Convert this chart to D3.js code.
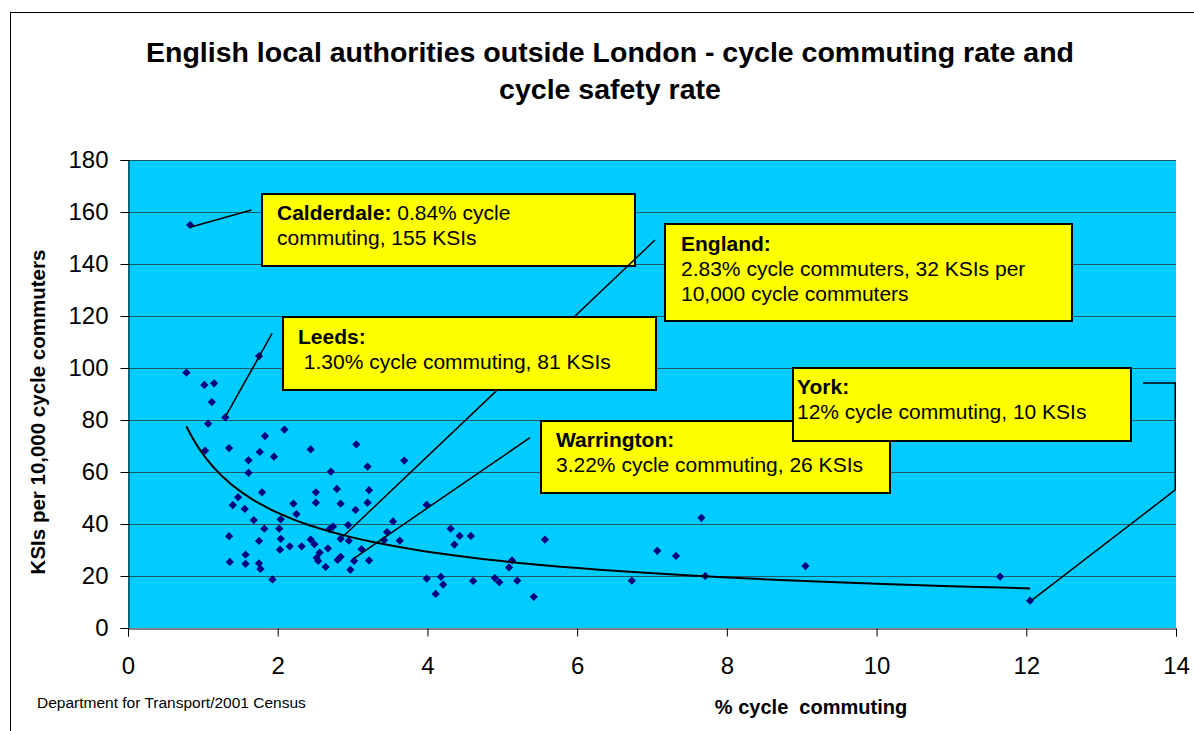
<!DOCTYPE html>
<html>
<head>
<meta charset="utf-8">
<script src="https://cdn.jsdelivr.net/npm/d3@7"></script>
<style>
  body { margin: 0; background: #fff; }
  text { font-family: "Liberation Sans", Arial, sans-serif; }
</style>
</head>
<body>
<svg id="chart" width="1194" height="731"></svg>
<script>
// % cycle commuting and KSIs per 10,000 cycle commuters, one entry per local authority
const cyclePct = [0.78, 0.83, 1.02, 1.15, 1.12, 1.30, 1.07, 1.03, 1.35, 1.61,
  1.76, 1.83, 2.09, 1.95, 2.44, 1.61, 1.75, 1.79, 2.51, 1.47,
  1.40, 1.56, 2.21, 2.51, 2.25, 1.68, 2.04, 1.82, 2.02, 1.35,
  2.04, 1.75, 2.44, 2.49, 2.16, 2.32, 2.03, 2.52, 1.57, 1.36,
  1.57, 1.75, 1.77, 1.93, 3.05, 3.20, 3.69, 2.71, 2.79, 3.22,
  2.84, 3.20, 3.04, 3.99, 3.54, 2.74, 2.69, 2.94, 3.46, 4.31,
  4.43, 4.58, 4.36, 2.84, 2.95, 3.63, 3.42, 2.67, 2.56, 3.12,
  2.54, 2.80, 2.84, 3.02, 3.22, 2.64, 2.97, 3.99, 4.18, 4.21,
  4.11, 4.61, 4.90, 4.96, 5.20, 5.42, 5.57, 5.13, 5.09, 7.66,
  7.07, 7.32, 6.73, 7.71, 9.05, 11.65, 12.05]
const ksiRate = [98.2, 155, 93.5, 94.1, 86.9, 81, 78.6, 68.2, 69.2, 64.5,
  67.7, 73.8, 76.3, 65.9, 68.7, 59.7, 104.6, 52.2, 52.2, 50.3,
  47.3, 45.8, 47.8, 48.2, 43.8, 41.5, 41.8, 38.2, 38.2, 35.3,
  34.3, 33.5, 34.0, 32.2, 31.4, 31.4, 30.1, 27.0, 28.2, 25.4,
  24.7, 24.9, 22.7, 18.7, 70.6, 62.1, 64.4, 60.1, 53.5, 53.0,
  47.8, 48.2, 45.4, 47.4, 41.0, 39.0, 38.0, 39.6, 36.9, 38.2,
  35.4, 35.4, 32.1, 34.3, 33.6, 33.6, 33.8, 30.6, 29.0, 30.3,
  25.8, 26.2, 27.4, 25.8, 26.0, 23.5, 22.4, 19.0, 19.7, 16.7,
  13.1, 18.1, 19.2, 17.6, 18.2, 12.0, 34.0, 26.0, 23.3, 42.4,
  29.7, 27.7, 18.2, 20.0, 23.8, 19.8, 10.5]

const xTicks = [0, 2, 4, 6, 8, 10, 12, 14]
const yTicks = [0, 20, 40, 60, 80, 100, 120, 140, 160, 180]

// callout wording
const calloutNames = ["Calderdale:", "England:", "Leeds:", "Warrington:", "York:"]
const calloutRest = [" 0.84% cycle", "", "", "", ""]
const calloutLines = [
  ["commuting, 155 KSIs"],
  ["2.83% cycle commuters, 32 KSIs per", "10,000 cycle commuters"],
  [" 1.30% cycle commuting, 81 KSIs"],
  ["3.22% cycle commuting, 26 KSIs"],
  ["12% cycle commuting, 10 KSIs"]
]

// callout box layout (px) and leader lines (data units)
const boxLayout = [
  {x0: 262, y0: 194, x1: 635, y1: 266, tx: 277, ty: 220},
  {x0: 665, y0: 224, x1: 1072, y1: 321, tx: 681, ty: 251},
  {x0: 283, y0: 317, x1: 656, y1: 390, tx: 298, ty: 344},
  {x0: 541, y0: 421, x1: 890, y1: 493, tx: 556, ty: 447},
  {x0: 793, y0: 368, x1: 1131, y1: 441, tx: 797, ty: 394}
]
const leaders = [
  [[1.65, 160.8], [0.83, 154.1]],
  [[7.04, 149.2], [2.87, 35.1]],
  [[1.925, 113.3], [1.305, 81.5]],
  [[5.37, 73.2], [3.02, 26.8]],
  [[13.56, 94.2], [13.99, 94.2], [13.99, 53.1], [12.08, 10.8]]
]

const svg = d3.select("#chart")
const plotLeft = 128, plotRight = 1176, plotTop = 160, plotBottom = 628

const x = d3.scaleLinear().domain([0, 14]).range([plotLeft, plotRight])
const y = d3.scaleLinear().domain([0, 180]).range([plotBottom, plotTop])

// outer chart frame
svg.append("rect")
  .attr("x", 10.5).attr("y", 12.5)
  .attr("width", 1300).attr("height", 900)
  .attr("fill", "none").attr("stroke", "#000").attr("stroke-width", 1)

// title
svg.append("text")
  .attr("x", 610).attr("y", 62)
  .attr("text-anchor", "middle")
  .attr("font-size", 28.5).attr("font-weight", "bold")
  .text("English local authorities outside London - cycle commuting rate and")
svg.append("text")
  .attr("x", 610).attr("y", 99)
  .attr("text-anchor", "middle")
  .attr("font-size", 28.5).attr("font-weight", "bold")
  .text("cycle safety rate")

// plot area
svg.append("rect")
  .attr("x", plotLeft).attr("y", plotTop)
  .attr("width", plotRight - plotLeft).attr("height", plotBottom - plotTop)
  .attr("fill", "#00ccff")

svg.append("g")
  .selectAll("line")
  .data(yTicks.slice(1))
  .enter()
  .append("line")
  .attr("x1", plotLeft).attr("x2", plotRight)
  .attr("y1", d => Math.round(y(d)) + 0.5)
  .attr("y2", d => Math.round(y(d)) + 0.5)
  .attr("stroke", "#1b5a66")

// axes
const yAxis = svg.append("g")
  .attr("transform", `translate(${plotLeft + 0.5},0)`)
  .call(d3.axisLeft(y).tickValues(yTicks).tickSize(8).tickPadding(12))
yAxis.selectAll("text").attr("font-size", 24).attr("fill", "#000")
  .style("font-family", '"Liberation Sans", Arial, sans-serif')
yAxis.selectAll("line, path").attr("stroke", "#000")

const xAxis = svg.append("g")
  .attr("transform", `translate(0,${plotBottom + 0.5})`)
  .call(d3.axisBottom(x).tickValues(xTicks).tickSize(8).tickPadding(20))
xAxis.selectAll("text").attr("font-size", 24).attr("fill", "#000")
  .style("font-family", '"Liberation Sans", Arial, sans-serif')
xAxis.selectAll("line, path").attr("stroke", "#000")

// axis titles and source
svg.append("text")
  .attr("transform", "translate(45,412) rotate(-90)")
  .attr("text-anchor", "middle")
  .attr("font-size", 20.5).attr("font-weight", "bold")
  .text("KSIs per 10,000 cycle commuters")

svg.append("text")
  .attr("x", 811).attr("y", 714)
  .attr("text-anchor", "middle")
  .attr("font-size", 20).attr("font-weight", "bold")
  .style("white-space", "pre")
  .text("% cycle  commuting")

svg.append("text")
  .attr("x", 37).attr("y", 708)
  .attr("font-size", 15.5)
  .text("Department for Transport/2001 Census")

// scatter points
const points = cyclePct.map((d, i) => [d, ksiRate[i]])
svg.append("g")
  .selectAll("path")
  .data(points)
  .enter()
  .append("path")
  .attr("d", d3.symbol(d3.symbolSquare, 34))
  .attr("transform", d => `translate(${x(d[0])},${y(d[1])}) rotate(45)`)
  .attr("fill", "#000080")

// power trendline, least squares fit in log-log space
const lx = points.map(d => Math.log(d[0]))
const ly = points.map(d => Math.log(d[1]))
const mx = d3.mean(lx), my = d3.mean(ly)
const slope = d3.sum(lx, (v, i) => (v - mx) * (ly[i] - my)) / d3.sum(lx, v => (v - mx) ** 2)
const coef = Math.exp(my - slope * mx)
const [xmin, xmax] = d3.extent(cyclePct)
const trend = d3.range(60).map(i => {
  const xv = xmin * Math.pow(xmax / xmin, i / 59)
  return [xv, coef * Math.pow(xv, slope)]
})
svg.append("path")
  .datum(trend)
  .attr("d", d3.line().x(d => x(d[0])).y(d => y(d[1])).curve(d3.curveBasis))
  .attr("fill", "none").attr("stroke", "#000").attr("stroke-width", 2)

// callouts
const lineGen = d3.line().x(d => x(d[0])).y(d => y(d[1]))

function drawBox(i) {
  const bx = boxLayout[i]
  const g = svg.append("g")
  g.append("rect")
    .attr("x", bx.x0).attr("y", bx.y0)
    .attr("width", bx.x1 - bx.x0).attr("height", bx.y1 - bx.y0)
    .attr("fill", "#ffff00").attr("stroke", "#000").attr("stroke-width", 2)
  const t = g.append("text")
    .attr("x", bx.tx).attr("y", bx.ty)
    .attr("font-size", 21)
    .style("white-space", "pre")
  t.append("tspan").attr("font-weight", "bold").text(calloutNames[i])
  t.append("tspan").text(calloutRest[i])
  calloutLines[i].forEach((line, j) => {
    g.append("text")
      .attr("x", bx.tx).attr("y", bx.ty + 25 * (j + 1))
      .attr("font-size", 21)
      .style("white-space", "pre")
      .text(line)
  })
}

drawBox(0)
svg.append("g")
  .selectAll("path")
  .data(leaders)
  .enter()
  .append("path")
  .attr("d", lineGen)
  .attr("fill", "none").attr("stroke", "#000").attr("stroke-width", 1.5)
drawBox(1)
drawBox(2)
drawBox(3)
drawBox(4)
</script>
</body>
</html>
